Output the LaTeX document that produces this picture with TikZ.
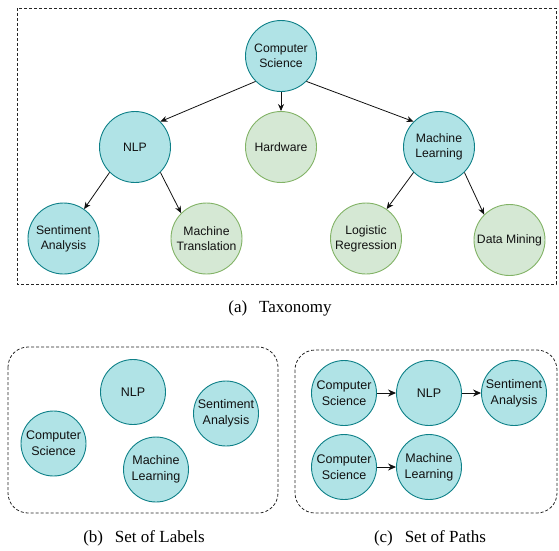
\documentclass[tikz,border=0pt]{standalone}
\usepackage{fontspec}
\newfontfamily\nodefont{Liberation Sans}
\newfontfamily\capfont{Liberation Serif}
\usetikzlibrary{arrows.meta}
\definecolor{tealfill}{HTML}{B0E3E6}
\definecolor{tealdraw}{HTML}{0E8088}
\definecolor{greenfill}{HTML}{D5E8D4}
\definecolor{greendraw}{HTML}{82B366}
\definecolor{txt}{HTML}{111111}
\begin{document}
\begin{tikzpicture}[x=1pt,y=-1pt,
  tnode/.style={circle, draw=tealdraw, fill=tealfill, line width=0.9pt, minimum size=71pt, inner sep=0pt, align=center, font=\nodefont\fontsize{12.2}{15}\selectfont, text=txt},
  gnode/.style={tnode, draw=greendraw, fill=greenfill},
  snode/.style={tnode, minimum size=65pt, font=\nodefont\fontsize{12.5}{16}\selectfont},
  tarrow/.style={-{Stealth[length=7pt,width=6pt]}, line width=0.8pt, draw=txt},
  parrow/.style={-{Stealth[length=8pt,width=7pt]}, line width=1pt, draw=txt},
  box/.style={draw=black!85, dash pattern=on 3pt off 2pt, line width=0.8pt},
  captext/.style={font=\capfont\fontsize{17}{20}\selectfont, text=black}
]
\useasboundingbox (0,0) rectangle (559,550);

% ---------- (a) Taxonomy ----------
\draw[box] (17,8) rectangle (556,284);
\node[tnode] (cs) at (281,56) {Computer\\Science};
\node[tnode] (nlp) at (135,147) {NLP};
\node[gnode] (hw) at (281,147) {Hardware};
\node[tnode] (ml) at (439,147) {Machine\\Learning};
\node[tnode] (sa) at (63.5,238.5) {Sentiment\\Analysis};
\node[gnode] (mt) at (206.5,238.5) {Machine\\Translation};
\node[gnode] (lr) at (366,238.5) {Logistic\\Regression};
\node[gnode] (dm) at (509.5,240) {Data Mining};

\draw[tarrow] (cs.south west) -- (nlp.north east);
\draw[tarrow] (cs.south) -- (hw.north);
\draw[tarrow] (cs.south east) -- (ml.north west);
\draw[tarrow] (nlp.south west) -- (sa.55);
\draw[tarrow] (nlp.south east) -- (mt.north west);
\draw[tarrow] (ml.south west) -- (lr.55);
\draw[tarrow] (ml.south east) -- (dm.north west);

\node[captext] (capa) at (280,308) {(a)\hspace{0.7em}Taxonomy};

% ---------- (b) Set of Labels ----------
\draw[box, rounded corners=20pt] (8,347) rectangle (278,513);
\node[snode] (bnlp) at (133,392) {NLP};
\node[snode] (bcs) at (53.5,443.5) {Computer\\Science};
\node[snode] (bsa) at (226,413.5) {Sentiment\\Analysis};
\node[snode] (bml) at (156,469.5) {Machine\\Learning};
\node[captext] (capb) at (144,538) {(b)\hspace{0.7em}Set of Labels};

% ---------- (c) Set of Paths ----------
\draw[box, rounded corners=20pt] (295,350) rectangle (557,513);
\node[snode] (ccs1) at (344,393) {Computer\\Science};
\node[snode] (cnlp) at (429,393) {NLP};
\node[snode] (csa) at (514,393) {Sentiment\\Analysis};
\node[snode] (ccs2) at (344,467) {Computer\\Science};
\node[snode] (cml) at (429,467) {Machine\\Learning};
\draw[parrow] (ccs1) -- (cnlp);
\draw[parrow] (cnlp) -- (csa);
\draw[parrow] (ccs2) -- (cml);
\node[captext] (capc) at (430,538) {(c)\hspace{0.7em}Set of Paths};
\end{tikzpicture}
\end{document}
